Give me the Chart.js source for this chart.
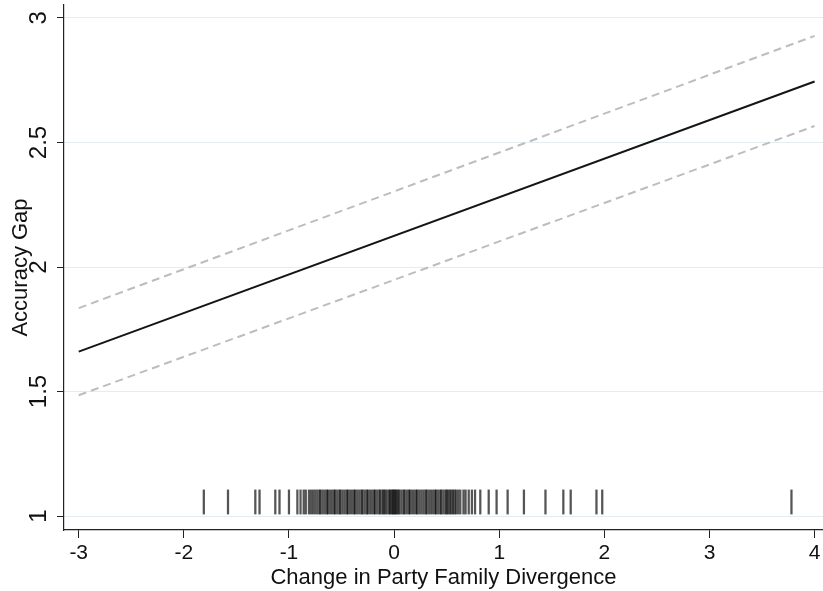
<!DOCTYPE html>
<html>
<head>
<meta charset="utf-8">
<script src="https://cdn.jsdelivr.net/npm/chart.js@4.4.1/dist/chart.umd.min.js"></script>
<style>
  html, body { margin: 0; padding: 0; background: #fff; }
  #wrap { width: 823px; height: 591px; }
</style>
</head>
<body>
<div id="wrap"><canvas id="chart" width="823" height="591"></canvas></div>
<script>
// Predicted accuracy gap vs change in party family divergence (with 95% CI + rug)

const X_TICKS = [-3, -2, -1, 0, 1, 2, 3, 4];
const Y_TICKS = [1, 1.5, 2, 2.5, 3];

// fitted line and confidence bounds, read at the ends of the range
const FIT_X = [-3, 4];
const FIT_Y = [1.66, 2.745];
const UPPER_Y = [1.835, 2.928];
const LOWER_Y = [1.485, 2.566];

// rug: observed values of the x variable
const RUG_X = [
  -1.81, -1.58, -1.32, -1.28, -1.13, -1.09, -1.00,
  -0.92, -0.89, -0.86, -0.84, -0.81, -0.79, -0.77, -0.75, -0.73, -0.71,
  -0.70, -0.68, -0.66, -0.64, -0.63, -0.61, -0.59, -0.57, -0.56, -0.54,
  -0.52, -0.51, -0.49, -0.47, -0.45, -0.44, -0.42, -0.40, -0.38, -0.37,
  -0.35, -0.33, -0.31, -0.30, -0.28, -0.26, -0.25, -0.23, -0.21, -0.19,
  -0.18, -0.16, -0.14, -0.13, -0.11, -0.10, -0.085, -0.07, -0.05, -0.04,
  -0.025, -0.015, -0.005, 0.005, 0.015, 0.025, 0.04, 0.05, 0.07, 0.09,
  0.10, 0.12, 0.14, 0.15, 0.17, 0.19, 0.21, 0.22, 0.24, 0.26, 0.28, 0.30,
  0.31, 0.33, 0.35, 0.37, 0.39, 0.40, 0.42, 0.44, 0.45, 0.47, 0.49, 0.50,
  0.515, 0.53, 0.545, 0.56, 0.575, 0.59, 0.61, 0.63, 0.66, 0.68, 0.71,
  0.74, 0.77,
  0.82, 0.90, 0.975, 1.08, 1.235, 1.44, 1.61, 1.68, 1.925, 1.98, 3.78
];
const RUG_FROM = 1.008;
const RUG_TO = 1.105;

const X_RANGE = [-3.14, 4.08];
const Y_RANGE = [0.944, 3.052];

const FONT = "'Liberation Sans', Arial, Helvetica, sans-serif";
const INK = "#111";

function pairs(xs, ys) {
  return xs.map((x, i) => ({ x, y: ys[i] }));
}

const datasets = [
  {
    type: "bar",
    label: "rug",
    data: RUG_X.map((x) => ({ x, y: [RUG_FROM, RUG_TO] })),
    backgroundColor: "rgba(5,5,5,0.68)",
    borderWidth: 0,
    barThickness: 1.6,
    order: 3,
  },
  {
    type: "line",
    label: "upper",
    data: pairs(FIT_X, UPPER_Y),
    borderColor: "#bdbdbd",
    borderWidth: 2,
    borderDash: [8, 5],
    pointRadius: 0,
    order: 2,
  },
  {
    type: "line",
    label: "lower",
    data: pairs(FIT_X, LOWER_Y),
    borderColor: "#bdbdbd",
    borderWidth: 2,
    borderDash: [8, 5],
    pointRadius: 0,
    order: 2,
  },
  {
    type: "line",
    label: "fit",
    data: pairs(FIT_X, FIT_Y),
    borderColor: "#151515",
    borderWidth: 2,
    pointRadius: 0,
    order: 1,
  },
];

new Chart(document.getElementById("chart"), {
  data: { datasets },
  options: {
    responsive: false,
    animation: false,
    layout: { padding: { top: 5, right: 0, left: 0, bottom: 0 } },
    plugins: {
      legend: { display: false },
      tooltip: { enabled: false },
    },
    scales: {
      x: {
        type: "linear",
        offset: false,
        min: X_RANGE[0],
        max: X_RANGE[1],
        afterBuildTicks: (s) => { s.ticks = X_TICKS.map((v) => ({ value: v })); },
        afterFit: (s) => {
          s.height = 61;
          s.paddingLeft = 0;
          s.paddingRight = 0;
        },
        grid: {
          offset: false,
          drawOnChartArea: false,
          drawTicks: true,
          tickLength: 8,
          tickColor: "#222",
        },
        border: { display: true, color: "#222", width: 1.2 },
        ticks: {
          color: INK,
          font: { family: FONT, size: 21 },
          padding: 3,
          maxRotation: 0,
          minRotation: 0,
          callback: (v) => String(v),
        },
        title: {
          display: true,
          text: "Change in Party Family Divergence",
          color: INK,
          font: { family: FONT, size: 22 },
          padding: { top: 0, bottom: 0 },
        },
      },
      y: {
        type: "linear",
        min: Y_RANGE[0],
        max: Y_RANGE[1],
        afterBuildTicks: (s) => { s.ticks = Y_TICKS.map((v) => ({ value: v })); },
        afterFit: (s) => {
          s.width = 64;
          s.paddingTop = 0;
          s.paddingBottom = 0;
        },
        grid: {
          color: "#e2edf0",
          lineWidth: 1,
          drawTicks: true,
          tickLength: 7,
          tickColor: "#222",
        },
        border: { display: true, color: "#222", width: 1.2 },
        ticks: {
          color: INK,
          font: { family: FONT, size: 24 },
          minRotation: 90,
          maxRotation: 90,
          crossAlign: "center",
          padding: 1,
          callback: (v) => String(v),
        },
        title: {
          display: true,
          text: "Accuracy Gap",
          color: INK,
          font: { family: FONT, size: 22 },
          padding: { top: 8, bottom: 0 },
        },
      },
    },
  },
});
</script>
</body>
</html>
